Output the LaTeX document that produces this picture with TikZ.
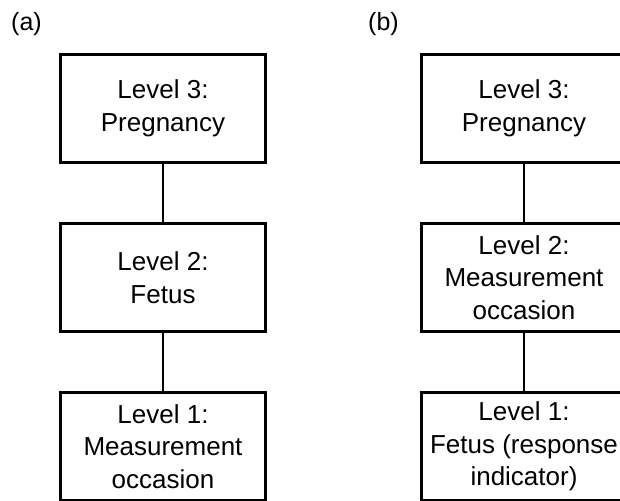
\documentclass[tikz,border=0pt]{standalone}
\usepackage{fontspec}
\setmainfont{Liberation Sans}
\usepackage{tikz}
\usetikzlibrary{positioning}

\begin{document}
\begin{tikzpicture}[
    x=1pt, y=-1pt,
    node distance=58pt,
    level/.style={rectangle, draw, line width=2.6pt, minimum width=205.4pt, minimum height=108.4pt,
        inner sep=0pt, align=center, font=\fontsize{26}{32.5}\selectfont},
    tag/.style={anchor=base west, inner sep=0pt, font=\fontsize{25}{30}\selectfont},
    link/.style={line width=2.6pt},
]
\useasboundingbox (0,0) rectangle (620,500);

% (a) Fetus nested in pregnancy
\node[tag] (a_tag) at (11,31) {(a)};
\node[level] (a_l3) at (163,108.5) {Level 3:\\Pregnancy};
\node[level, below=of a_l3] (a_l2) {Level 2:\\Fetus};
\node[level, below=of a_l2] (a_l1) {Level 1:\\Measurement\\occasion};

\draw[link] (a_l3) -- (a_l2);
\draw[link] (a_l2) -- (a_l1);

% (b) Fetus as response indicator
\node[tag] (b_tag) at (368,31) {(b)};
\node[level] (b_l3) at (524,108.5) {Level 3:\\Pregnancy};
\node[level, below=of b_l3] (b_l2) {Level 2:\\Measurement\\occasion};
\node[level, below=of b_l2] (b_l1) {Level 1:\\Fetus (response\\indicator)};

\draw[link] (b_l3) -- (b_l2);
\draw[link] (b_l2) -- (b_l1);

\end{tikzpicture}
\end{document}
